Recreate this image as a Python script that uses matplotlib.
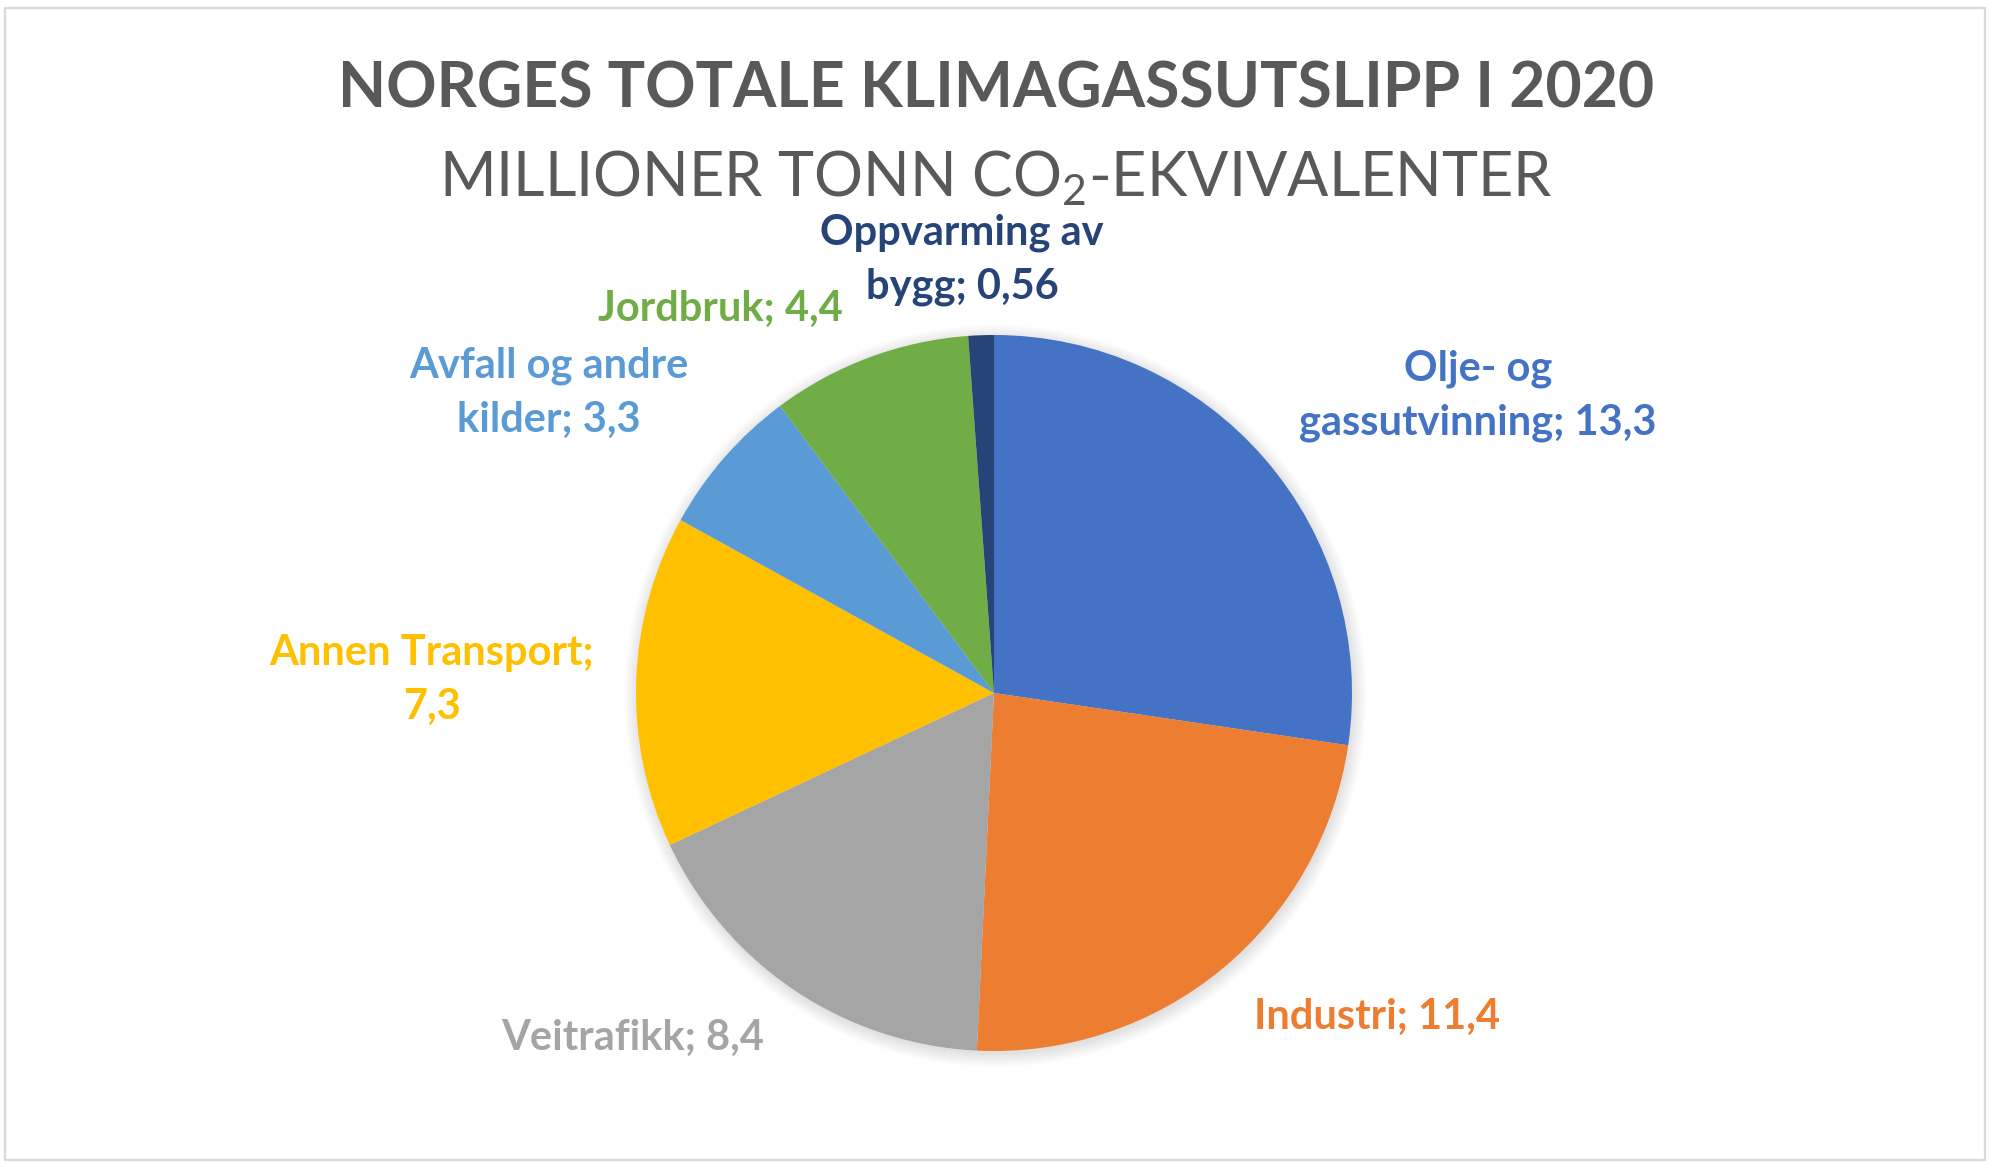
import matplotlib
matplotlib.use("Agg")
import matplotlib.pyplot as plt
from matplotlib.patches import Circle, Rectangle
import numpy as np

plt.rcParams['font.family'] = ['Lato', 'DejaVu Sans']
plt.rcParams['mathtext.fontset'] = 'custom'
plt.rcParams['mathtext.rm'] = 'Lato'
plt.rcParams['mathtext.it'] = 'Lato:italic'
plt.rcParams['mathtext.bf'] = 'Lato:bold'

# ---- data ----
label_names = ["Olje- og\ngassutvinning; ", "Industri; ", "Veitrafikk; ", "Annen Transport;\n",
               "Avfall og andre\nkilder; ", "Jordbruk; ", "Oppvarming av\nbygg; "]
values = [13.3, 11.4, 8.4, 7.3, 3.3, 4.4, 0.56]
value_labels = ["13,3", "11,4", "8,4", "7,3", "3,3", "4,4", "0,56"]
colors = ["#4472C4", "#ED7D31", "#A5A5A5", "#FFC000", "#5B9BD5", "#70AD47", "#264478"]

title = "NORGES TOTALE KLIMAGASSUTSLIPP I 2020"
subtitle = r"MILLIONER TONN CO$_\mathregular{2}$-EKVIVALENTER"

# label positions in units of pie radius (relative to pie centre)
label_pos = [(1.352, 0.830), (1.070, -0.905), (-1.008, -0.964), (-1.570, 0.036),
             (-1.243, 0.838), (-0.765, 1.073), (-0.089, 1.209)]

W, H = 1993, 1168
fig = plt.figure(figsize=(W / 100, H / 100), dpi=100)
fig.patch.set_facecolor("white")

# border
fig.patches.append(Rectangle((5 / W, 8 / H), (1985 - 5) / W, (1160 - 8) / H,
                             transform=fig.transFigure, fill=False,
                             edgecolor="#D9D9D9", linewidth=1.6))

# pie axes: centre (994, 693) px, radius 358 px, axes spans +-2 radii
cx, cy, r = 994, 693, 358
k = 2.0
ax = fig.add_axes([(cx - k * r) / W, (H - cy - k * r) / H, 2 * k * r / W, 2 * k * r / H])

# soft shadow
for i in range(10):
    ax.add_patch(Circle((0.004, -0.008), 1.0 + 0.004 * i, facecolor="black",
                        alpha=0.012, edgecolor="none", zorder=0))

ax.pie(values, colors=colors, startangle=90, counterclock=False,
       wedgeprops=dict(linewidth=0), radius=1.0)
ax.set_xlim(-k, k)
ax.set_ylim(-k, k)
ax.set_aspect("equal")
ax.axis("off")

for name, val, col, (lx, ly) in zip(label_names, value_labels, colors, label_pos):
    ax.text(lx, ly, name + val, ha="center", va="center", color=col,
            fontsize=30, fontweight="bold", linespacing=1.5, clip_on=False)

fig.text(996 / W, 1 - 90 / H, title, ha="center", va="center",
         fontsize=45, fontweight="bold", color="#595959")
fig.text(996 / W, 1 - 178 / H, subtitle, ha="center", va="center",
         fontsize=44, color="#595959")

fig.savefig("out.png", dpi=100, facecolor="white")
